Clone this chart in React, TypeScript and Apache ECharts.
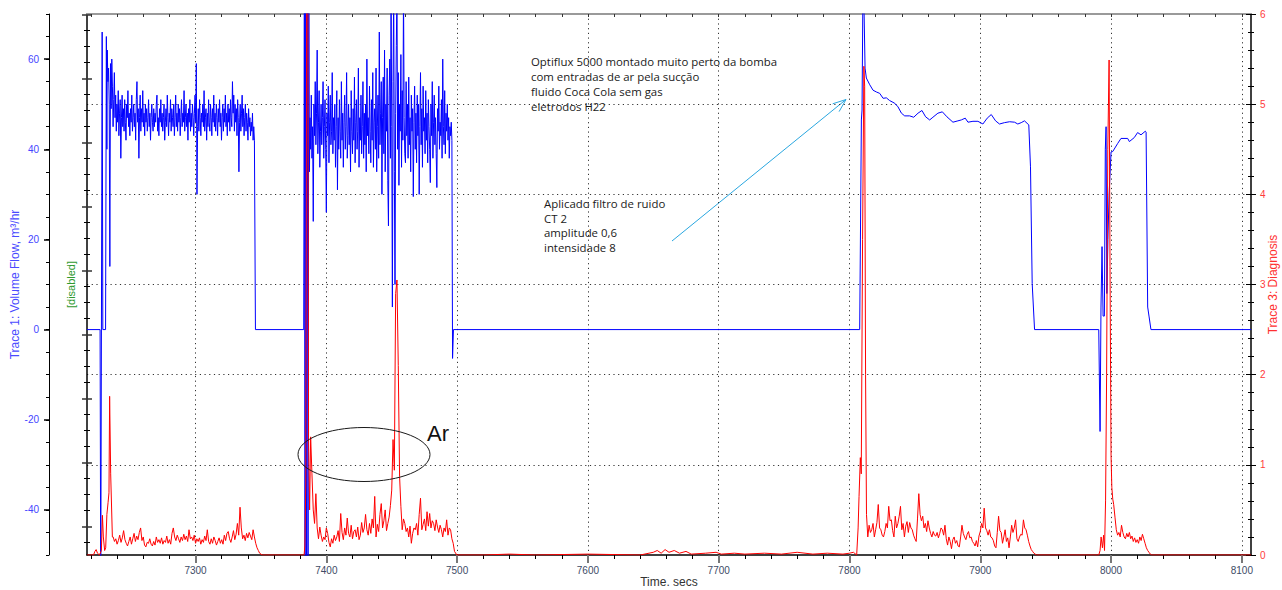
import { useEffect, useRef } from "react";
import * as echarts from "echarts";

// ---------- axes ----------
const X_MIN = 7217;
const X_MAX = 8107;
const xTickLabels = [7300, 7400, 7500, 7600, 7700, 7800, 7900, 8000, 8100];
const leftTickLabels = [-40, -20, 0, 20, 40, 60];
const LEFT_MIN = -50;
const LEFT_MAX = 70;
const RIGHT_MIN = 0;
const RIGHT_MAX = 6;

// ---------- Trace 1 (blue, m3/hr) ----------
const blueLead: [number, number][] = [
  [7217, 0], [7227.0, 0], [7227.5, -60], [7228.6, 66], [7229.1, 0], [7231.2, 0], [7231.8, 65], [7232.2, 40],
];
const blueNoise1Start = 7232.5;
const blueNoise1End = 7345.0;
const blueNoise1 = [
  62, 55, 58, 50, 14, 59, 49, 60, 54, 45, 51, 57, 47, 52, 44,
  50, 46, 53, 43, 48, 51, 38, 47, 52, 45,
  49, 44, 51, 46, 42, 50, 47, 53, 45, 48,
  43, 49, 46, 52, 44, 47, 50, 45, 48, 42,
  51, 55, 46, 49, 38, 47, 52, 44, 49, 46,
  53, 45, 48, 43, 50, 46, 49, 44, 47, 51,
  45, 48, 42, 47, 50, 46, 44, 49, 45, 48,
  46, 50, 52, 44, 47, 43, 49, 46, 51, 45,
  48, 44, 47, 50, 42, 46, 49, 45, 52, 47,
  43, 48, 46, 51, 44, 49, 47, 45, 50, 43,
  47, 52, 45, 48, 44, 50, 46, 49, 43, 47,
  51, 45, 48, 46, 53, 44, 47, 50, 45, 48,
  42, 49, 46, 51, 44, 48, 45, 50, 47, 43,
  48, 52, 46, 59, 30, 45, 49, 44, 51, 47,
  43, 48, 46, 50, 45, 53, 44, 47, 49, 42,
  48, 45, 51, 46, 44, 50, 47, 43, 49, 46,
  52, 45, 48, 44, 50, 47, 43, 49, 46, 51,
  45, 48, 42, 47, 50, 44, 49, 46, 52, 45,
  48, 43, 50, 46, 49, 44, 51, 47, 45, 55,
  48, 52, 44, 50, 46, 49, 43, 51, 47, 35,
  46, 50, 44, 48, 52, 45, 49, 43, 47, 50,
  44, 48, 46, 42, 49, 45, 47, 43, 46, 44,
  48, 42, 45, 42,
];
const blueMid1: [number, number][] = [
  [7345.8, 0], [7382.7, 0], [7383.2, 80], [7383.7, -60], [7384.2, 80], [7384.8, -60],
  [7385.4, 80], [7386.0, -60], [7386.6, 78], [7387.1, 35],
];
const blueNoise2Start = 7387.5;
const blueNoise2End = 7496.0;
const blueNoise2 = [
  47, 40, 52, 38, 45, 24, 50, 43, 55, 41,
  48, 62, 39, 46, 53, 36, 44, 50, 41, 47,
  55, 38, 45, 51, 40, 26, 48, 43, 54, 37,
  46, 52, 41, 44, 57, 39, 47, 42, 50, 36,
  45, 53, 31, 47, 40, 51, 44, 38, 55, 42,
  48, 36, 46, 52, 40, 45, 57, 38, 43, 50,
  41, 47, 35, 53, 44, 39, 49, 42, 56, 37,
  46, 51, 40, 44, 58, 36, 47, 42, 52, 39,
  45, 55, 38, 48, 41, 50, 35, 60, 43, 47,
  39, 54, 44, 37, 51, 42, 57, 36, 46, 49,
  40, 58, 35, 45, 52, 38, 66, 41, 48, 55,
  30, 47, 56, 39, 62, 35, 50, 44, 58, 33,
  23, 52, 60, 38, 75, 45, 5, 55, 75, 35,
  10, 48, 63, 75, 40, 57, 32, 50, 44, 61,
  36, 53, 42, 75, 47, 39, 37, 55, 43, 50,
  38, 56, 41, 47, 35, 52, 44, 49, 29.5, 46,
  54, 40, 48, 37, 52, 43, 50, 30, 45, 57,
  41, 49, 36, 54, 44, 47, 39, 53, 42, 48,
  37, 51, 45, 40, 32.6, 50, 43, 55, 38, 46,
  52, 41, 47, 39, 31.5, 49, 44, 54, 40, 46,
  43, 51, 38, 60, 45, 41, 53, 39, 48, 44,
  50, 42, 47, 38, 45, 43, 46, 42,
];
const blueTail: [number, number][] = [
  [7496.5, -6.4], [7497.2, 0], [7807.8, 0], [7809.1, 46.5], [7809.6, 48.7], [7810.4, 80],
  [7810.9, 75], [7811.9, 58], [7812.9, 55.8], [7815.5, 54.3], [7818.0, 53.1], [7820.6, 52.7],
  [7823.1, 52.4], [7825.7, 51.3], [7828.2, 51.4], [7830.7, 50.8], [7834.6, 50.2], [7837.1, 49.4],
  [7839.7, 48.0], [7842.2, 47.4], [7846.0, 47.4], [7849.1, 47.1], [7852.4, 48.0], [7855.4, 48.6],
  [7858.2, 47.2], [7861.3, 46.5], [7863.8, 47.1], [7867.6, 48.0], [7871.0, 48.3], [7874.5, 47.2],
  [7879.1, 46.0], [7882.9, 46.3], [7885.5, 46.5], [7888.5, 46.9], [7890.6, 46.0], [7894.4, 46.2],
  [7898.2, 46.2], [7902.0, 45.6], [7905.3, 46.9], [7908.4, 47.7], [7911.7, 46.3], [7914.7, 45.6],
  [7918.5, 45.9], [7922.4, 46.1], [7926.2, 46.0], [7928.7, 45.6], [7931.3, 45.9], [7933.8, 46.3],
  [7937.1, 45.4], [7938.4, 36.1], [7939.7, 10.2], [7941.5, 0],
  [7990.6, 0], [7991.6, -22.6], [7992.3, 5], [7993.1, 18.4], [7993.9, 3], [7994.9, 3],
  [7995.6, 40], [7996.2, 45], [7996.8, 8], [7997.6, 20], [7998.5, 30], [8000.0, 39.4],
  [8001.3, 39.5], [8005.1, 41.3], [8007.6, 42.4], [8012.7, 42.4], [8014.0, 41.7], [8017.8, 42.6],
  [8020.3, 43.7], [8022.9, 43.2], [8026.2, 44.0], [8026.8, 43.8], [8028.0, 5], [8029.0, 3],
  [8030.5, 0], [8107, 0],
];

// ---------- Trace 3 (red, diagnosis) ----------
const redLead: [number, number][] = [
  [7217, 0], [7222, 0], [7223, 0.04], [7224, 0.06], [7225, 0.02], [7226.5, 0], [7228, 0.05],
  [7228.8, 0.44], [7229.5, 0.2], [7230.5, 0.05], [7231.3, 0.08], [7232.2, 0.45], [7233.1, 0.58],
  [7233.8, 0.69], [7234.3, 1.76], [7235.1, 0.9], [7236.4, 0.2],
];
const redNoise1Start = 7237;
const redNoise1End = 7349;
const redNoise1 = [
  0.2, 0.15, 0.18, 0.12, 0.16, 0.22, 0.14, 0.19, 0.27, 0.17,
  0.13, 0.1, 0.15, 0.2, 0.12, 0.18, 0.24, 0.15, 0.21, 0.17,
  0.25, 0.3, 0.16, 0.2, 0.11, 0.09, 0.14, 0.13, 0.18, 0.12,
  0.1, 0.15, 0.11, 0.2, 0.14, 0.17, 0.13, 0.19, 0.12, 0.16,
  0.14, 0.21, 0.13, 0.17, 0.12, 0.24, 0.3, 0.2, 0.16, 0.22,
  0.18, 0.14, 0.2, 0.16, 0.23, 0.17, 0.21, 0.15, 0.28, 0.18,
  0.2, 0.16, 0.22, 0.13, 0.18, 0.15, 0.19, 0.12, 0.17, 0.14,
  0.21, 0.16, 0.28, 0.15, 0.12, 0.18, 0.13, 0.2, 0.16, 0.11,
  0.15, 0.19, 0.13, 0.17, 0.12, 0.22, 0.16, 0.24, 0.26, 0.18,
  0.14, 0.2, 0.27, 0.17, 0.23, 0.35, 0.22, 0.53, 0.3, 0.18,
  0.22, 0.16, 0.24, 0.19, 0.25, 0.21, 0.17, 0.28, 0.2, 0.13,
  0.08, 0.05, 0.02,
];
const redMid1: [number, number][] = [
  [7351, 0], [7383.0, 0], [7383.6, 0.1], [7384.3, 0.8], [7385.0, 6.8], [7385.8, 6.8],
  [7386.4, 1.3], [7387.2, 0.5], [7388.0, 1.31],
];
const redNoise2Start = 7389;
const redNoise2End = 7498;
const redNoise2 = [
  0.9, 0.5, 0.35, 0.68, 0.3, 0.18, 0.31, 0.22, 0.15, 0.2,
  0.17, 0.3, 0.24, 0.14, 0.09, 0.18, 0.13, 0.22, 0.16, 0.2,
  0.27, 0.15, 0.46, 0.25, 0.17, 0.3, 0.22, 0.41, 0.24, 0.2,
  0.33, 0.18, 0.26, 0.28, 0.2, 0.31, 0.17, 0.22, 0.36, 0.25,
  0.3, 0.45, 0.28, 0.22, 0.35, 0.24, 0.4, 0.3, 0.65, 0.2,
  0.34, 0.26, 0.45, 0.57, 0.3, 0.38, 0.5, 0.27, 0.35, 0.42,
  0.55, 0.72, 1.28, 0.94, 2.9, 3.05, 2.1, 0.87, 0.54, 0.28,
  0.4, 0.35, 0.26, 0.3, 0.2, 0.32, 0.13, 0.24, 0.3, 0.28,
  0.35, 0.22, 0.45, 0.63, 0.28, 0.34, 0.4, 0.27, 0.48, 0.32,
  0.46, 0.3, 0.38, 0.35, 0.27, 0.39, 0.31, 0.25, 0.33, 0.28,
  0.2, 0.3, 0.26, 0.39, 0.22, 0.3, 0.28, 0.18, 0.13, 0.04,
];
const redMid2: [number, number][] = [
  [7499.8, 0], [7520, 0], [7540, 0.01], [7560, 0], [7600, 0.01], [7640, 0], [7650, 0.03],
  [7653, 0.05], [7656, 0.02], [7659, 0.06], [7662, 0.03], [7666, 0.05], [7670, 0.02],
  [7675, 0.04], [7679, 0.01], [7690, 0.02], [7698, 0.03], [7702, 0.01], [7712, 0.02],
  [7720, 0.01], [7735, 0.02], [7748, 0.01], [7760, 0.03], [7772, 0.01], [7783, 0.02],
  [7795, 0.01], [7800, 0.02], [7803, 0.03], [7805.5, 0], [7806.6, 0.3], [7807.3, 0.65],
  [7808.3, 1.08], [7809.0, 0.9], [7810.0, 3.5], [7811.0, 5.42], [7811.6, 5.2], [7812.3, 2.0],
  [7813.0, 0.45],
];
const redNoise3Start = 7814;
const redNoise3End = 7941;
const redNoise3 = [
  0.2, 0.33, 0.25, 0.28, 0.35, 0.2, 0.28, 0.36, 0.56, 0.3,
  0.28, 0.22, 0.2, 0.26, 0.35, 0.3, 0.54, 0.38, 0.39, 0.27,
  0.2, 0.43, 0.3, 0.35, 0.43, 0.54, 0.28, 0.35, 0.2, 0.32,
  0.37, 0.25, 0.36, 0.3, 0.28, 0.22, 0.18, 0.15, 0.4, 0.68,
  0.45, 0.38, 0.43, 0.3, 0.35, 0.26, 0.38, 0.3, 0.24, 0.2,
  0.26, 0.22, 0.21, 0.25, 0.19, 0.24, 0.3, 0.28, 0.22, 0.33,
  0.18, 0.11, 0.2, 0.15, 0.07, 0.17, 0.2, 0.13, 0.16, 0.1,
  0.09, 0.2, 0.33, 0.24, 0.2, 0.17, 0.23, 0.26, 0.19, 0.2,
  0.15, 0.13, 0.1, 0.16, 0.09, 0.21, 0.26, 0.35, 0.3, 0.52,
  0.3, 0.27, 0.22, 0.28, 0.2, 0.19, 0.16, 0.1, 0.08, 0.25,
  0.43, 0.27, 0.25, 0.13, 0.2, 0.28, 0.15, 0.19, 0.08, 0.2,
  0.33, 0.25, 0.3, 0.39, 0.18, 0.15, 0.2, 0.23, 0.22, 0.39,
  0.3, 0.28, 0.22, 0.15, 0.1, 0.06, 0.04, 0.02,
];
const redMid3: [number, number][] = [
  [7943, 0], [7990.6, 0], [7991.6, 0.05], [7992.4, 0.2], [7993.4, 0.08], [7994.3, 0.22],
  [7995.0, 0.05], [7995.8, 0.6], [7996.6, 2.0], [7997.5, 4.5], [7998.5, 5.49], [7999.2, 3.2],
  [8000.0, 1.1], [8000.6, 0.75], [8001.3, 0.62],
];
const redNoise4Start = 8002;
const redNoise4End = 8030;
const redNoise4 = [
  0.56, 0.42, 0.28, 0.22, 0.25, 0.2, 0.33, 0.25, 0.2, 0.18,
  0.24, 0.2, 0.25, 0.18, 0.21, 0.15, 0.19, 0.14, 0.17, 0.13,
  0.2, 0.16, 0.23, 0.18, 0.13, 0.08, 0.05, 0.03, 0.01,
];
const redTail: [number, number][] = [[8031, 0], [8107, 0]];

// ---------- annotations ----------
const noteTop = [
  "Optiflux 5000 montado muito perto da bomba",
  "com entradas de ar pela sucção",
  "fluido Coca Cola sem gas",
  "eletrodos H22",
];
const noteFilter = ["Aplicado filtro de ruido", "CT 2", "amplitude 0,6", "intensidade 8"];

function sampled(start: number, end: number, values: number[]): [number, number][] {
  const step = (end - start) / (values.length - 1);
  return values.map((v, i) => [start + i * step, v]);
}

const blueData = [
  ...blueLead,
  ...sampled(blueNoise1Start, blueNoise1End, blueNoise1),
  ...blueMid1,
  ...sampled(blueNoise2Start, blueNoise2End, blueNoise2),
  ...blueTail,
];
const redData = [
  ...redLead,
  ...sampled(redNoise1Start, redNoise1End, redNoise1),
  ...redMid1,
  ...sampled(redNoise2Start, redNoise2End, redNoise2),
  ...redMid2,
  ...sampled(redNoise3Start, redNoise3End, redNoise3),
  ...redMid3,
  ...sampled(redNoise4Start, redNoise4End, redNoise4),
  ...redTail,
];

// tick positions (layout only)
const xMinorTicks: number[] = [];
for (let v = 7220; v <= X_MAX; v += 20) xMinorTicks.push(v);
const leftMinorTicks: number[] = [];
for (let v = LEFT_MIN; v <= LEFT_MAX; v += 5) leftMinorTicks.push(v);
const INNER_MAX = 33.81;
const innerShort: number[] = [];
const innerLong: number[] = [];
for (let k = 0; k < 34; k++) {
  const v = 0.77 + k;
  if (v > INNER_MAX) break;
  if (k % 4 === 1) innerLong.push(+v.toFixed(2));
  else innerShort.push(+v.toFixed(2));
}

const FONT = "Liberation Sans, Arial, sans-serif";
const NOTE_FONT = '11.4px "Open Sans", sans-serif';
const dotted = { color: "#333", width: 1, type: [1.2, 3.5] as number[] };

export default function App() {
  const ref = useRef<HTMLDivElement>(null);
  useEffect(() => {
    if (!ref.current) return;
    const chart = echarts.init(ref.current, undefined, { renderer: "svg" });
    const noLine = { show: false, onZero: false };
    const baseX = { type: "value" as const, min: X_MIN, max: X_MAX, gridIndex: 0 };
    const baseInner = { type: "value" as const, min: 0, max: INNER_MAX, position: "left" as const, offset: 0 };
    const baseLeft = { type: "value" as const, min: LEFT_MIN, max: LEFT_MAX, position: "left" as const, offset: 38 };
    const baseRight = { type: "value" as const, min: RIGHT_MIN, max: RIGHT_MAX, interval: 1, position: "right" as const };

    chart.setOption({
      animation: false,
      grid: { left: 87, right: 31, top: 14, bottom: 35, containLabel: false, outerBoundsMode: "none" },
      xAxis: [
        {
          ...baseX,
          position: "bottom",
          axisLine: { show: true, onZero: false, lineStyle: { color: "#000", width: 1.5 } },
          axisTick: { show: true, customValues: xMinorTicks, length: 4, lineStyle: { color: "#000" } },
          axisLabel: {
            show: true,
            customValues: xTickLabels,
            formatter: (v: number) => String(Math.round(v)),
            color: "#3d4b66",
            fontSize: 10,
            fontFamily: FONT,
            margin: 10,
          },
          splitLine: { show: false },
          name: "Time. secs",
          nameLocation: "middle",
          nameGap: 21,
          nameMoveOverlap: false,
          nameTextStyle: { color: "#333", fontSize: 12, fontFamily: FONT },
        },
        {
          ...baseX,
          position: "bottom",
          axisLine: noLine,
          axisTick: { show: true, customValues: xTickLabels, length: 8, lineStyle: { color: "#777", width: 2 } },
          axisLabel: { show: false },
          splitLine: { show: true, lineStyle: dotted },
        },
        {
          ...baseX,
          position: "top",
          axisLine: { show: true, onZero: false, lineStyle: { color: "#9a9a9a", width: 2 } },
          axisTick: { show: true, inside: true, customValues: xMinorTicks, length: 3, lineStyle: { color: "#333" } },
          axisLabel: { show: false },
          splitLine: { show: false },
        },
      ],
      yAxis: [
        {
          ...baseLeft,
          axisLine: { show: true, onZero: false, lineStyle: { color: "#000" } },
          axisTick: { show: true, customValues: leftMinorTicks, length: 3, lineStyle: { color: "#000" } },
          axisLabel: {
            show: true,
            customValues: leftTickLabels,
            formatter: (v: number) => String(Math.round(v)),
            color: "#4646ff",
            fontSize: 10,
            fontFamily: FONT,
            margin: 10,
          },
          splitLine: { show: false },
          name: "Trace 1: Volume Flow, m³/hr",
          nameLocation: "middle",
          nameRotate: 90,
          nameGap: 28,
          nameMoveOverlap: false,
          nameTextStyle: { color: "#4a4aff", fontSize: 12, fontFamily: FONT },
        },
        {
          ...baseLeft,
          axisLine: noLine,
          axisTick: { show: true, customValues: leftTickLabels, length: 5, lineStyle: { color: "#000", width: 1.5 } },
          axisLabel: { show: false },
          splitLine: { show: false },
        },
        {
          ...baseInner,
          axisLine: { show: true, onZero: false, lineStyle: { color: "#000", width: 1.5 } },
          axisTick: { show: true, customValues: innerShort, length: 3, lineStyle: { color: "#000" } },
          axisLabel: { show: false },
          splitLine: { show: false },
          name: "[disabled]",
          nameLocation: "middle",
          nameRotate: 90,
          nameGap: 11,
          nameMoveOverlap: false,
          nameTextStyle: { color: "#2f9a2f", fontSize: 11, fontFamily: FONT },
        },
        {
          ...baseInner,
          axisLine: noLine,
          axisTick: { show: true, inside: true, customValues: innerShort, length: 3, lineStyle: { color: "#000" } },
          axisLabel: { show: false },
          splitLine: { show: false },
        },
        {
          ...baseInner,
          axisLine: noLine,
          axisTick: { show: true, customValues: innerLong, length: 5, lineStyle: { color: "#333", width: 1.5 } },
          axisLabel: { show: false },
          splitLine: { show: false },
        },
        {
          ...baseInner,
          axisLine: noLine,
          axisTick: { show: true, inside: true, customValues: innerLong, length: 5, lineStyle: { color: "#333", width: 1.5 } },
          axisLabel: { show: false },
          splitLine: { show: false },
        },
        {
          ...baseRight,
          axisLine: { show: true, onZero: false, lineStyle: { color: "#000", width: 1.5 } },
          axisTick: { show: true, length: 5, lineStyle: { color: "#000" } },
          minorTick: { show: true, splitNumber: 5, length: 3, lineStyle: { color: "#000" } },
          axisLabel: { show: true, color: "#ff3b3b", fontSize: 10, fontFamily: FONT, margin: 9 },
          splitLine: { show: true, showMinLine: false, showMaxLine: false, lineStyle: dotted },
          name: "Trace 3: Diagnosis",
          nameLocation: "middle",
          nameRotate: 90,
          nameGap: 16,
          nameMoveOverlap: false,
          nameTextStyle: { color: "#ff3030", fontSize: 12, fontFamily: FONT },
        },
        {
          ...baseRight,
          axisLine: noLine,
          axisTick: { show: true, inside: true, length: 5, lineStyle: { color: "#000" } },
          minorTick: { show: true, splitNumber: 5, length: 3, lineStyle: { color: "#000" } },
          axisLabel: { show: false },
          splitLine: { show: false },
        },
      ],
      series: [
        {
          type: "line",
          name: "Trace 1",
          xAxisIndex: 0,
          yAxisIndex: 0,
          data: blueData,
          symbol: "none",
          showSymbol: false,
          clip: true,
          z: 2,
          lineStyle: { color: "#0000ff", width: 1 },
        },
        {
          type: "line",
          name: "Trace 3",
          xAxisIndex: 0,
          yAxisIndex: 6,
          data: redData,
          symbol: "none",
          showSymbol: false,
          clip: true,
          z: 3,
          lineStyle: { color: "#ff0000", width: 1 },
        },
      ],
      graphic: [
        {
          type: "text",
          left: 531,
          top: 54,
          style: { text: noteTop.join("\n"), font: NOTE_FONT, lineHeight: 15, fill: "#1a1a1a" },
        },
        {
          type: "text",
          left: 544,
          top: 196,
          style: { text: noteFilter.join("\n"), font: NOTE_FONT, lineHeight: 14.7, fill: "#1a1a1a" },
        },
        {
          type: "line",
          shape: { x1: 672, y1: 241, x2: 846, y2: 99.5 },
          style: { stroke: "#2aa7e0", lineWidth: 1 },
        },
        {
          type: "polyline",
          shape: { points: [[839.1, 111.6], [846, 99.5], [832.7, 103.8]] },
          style: { stroke: "#2aa7e0", lineWidth: 1, fill: "none" },
        },
        {
          type: "ellipse",
          shape: { cx: 364, cy: 454.5, rx: 66, ry: 27 },
          style: { stroke: "#1a1a1a", lineWidth: 1, fill: "none" },
          z: 10,
        },
        {
          type: "text",
          left: 427,
          top: 422,
          style: { text: "Ar", font: '22px "Liberation Sans", Arial, sans-serif', fill: "#111" },
          z: 10,
        },
      ],
    });
    return () => chart.dispose();
  }, []);
  return (
    <div
      ref={ref}
      style={{ position: "fixed", left: 0, top: 0, width: 1282, height: 590, background: "#fff" }}
    />
  );
}
